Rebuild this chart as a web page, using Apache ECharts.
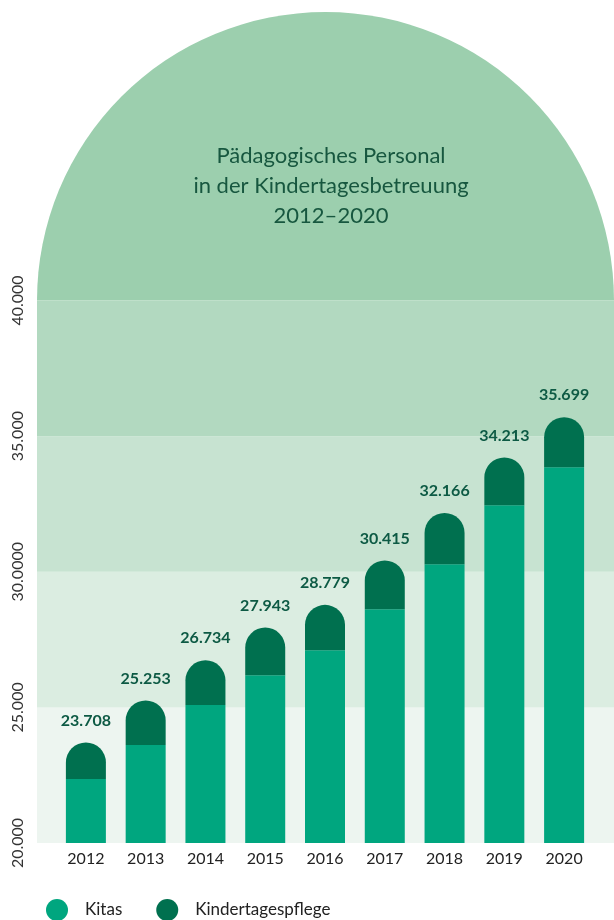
<!DOCTYPE html>
<html lang="de">
<head>
    <meta charset="UTF-8">
    <title>Pädagogisches Personal</title>
    <script src="https://cdn.jsdelivr.net/npm/echarts@6/dist/echarts.min.js"></script>
    <style>
        html, body { margin: 0; padding: 0; background: #fff; }
        #main { width: 614px; height: 920px; }
    </style>
</head>
<body>
    <div id="main"></div>
    <script>
        // Daten
        var years = ['2012', '2013', '2014', '2015', '2016', '2017', '2018', '2019', '2020'];
        var kitas = [22357, 23610, 25083, 26188, 27109, 28619, 30276, 32449, 33849];
        var pflege = [1351, 1643, 1651, 1755, 1670, 1796, 1890, 1764, 1850];
        var totals = [23708, 25253, 26734, 27943, 28779, 30415, 32166, 34213, 35699];
        var yTicks = { 20000: '20.000', 25000: '25.000', 30000: '30.0000', 35000: '35.000', 40000: '40.000' };

        var bandColors = ['#edf5f0', '#dbede1', '#c7e3d1', '#b2d9c0'];
        var gTop = 300.5, gBottom = 77, gLeft = 37;
        var font = 'Lato, "Noto Sans", sans-serif';

        var chart = echarts.init(document.getElementById('main'));

        function fmt(v) {
            return String(v).replace(/\B(?=(\d{3})+(?!\d))/g, '.');
        }

        var option = {
            animation: false,
            title: {
                text: 'Pädagogisches Personal\nin der Kindertagesbetreuung\n2012–2020',
                left: 326,
                top: 136,
                textAlign: 'center',
                textStyle: {
                    fontFamily: font,
                    fontWeight: 'normal',
                    fontSize: 22,
                    lineHeight: 30,
                    color: '#17573f'
                }
            },
            legend: {
                left: 41,
                top: 894,
                icon: 'circle',
                itemWidth: 22,
                itemHeight: 22,
                itemGap: 34,
                textStyle: { fontFamily: font, fontSize: 17, color: '#222', padding: [0, 0, 0, 12] },
                data: ['Kitas', 'Kindertagespflege']
            },
            grid: [
                { left: gLeft, right: 0, top: gTop, bottom: gBottom },
                { left: 56, right: 20, top: gTop, bottom: gBottom }
            ],
            xAxis: [
                { type: 'value', gridIndex: 0, min: 0, max: 1, show: false },
                {
                    type: 'category', gridIndex: 1, data: years,
                    axisLine: { show: false }, axisTick: { show: false },
                    axisLabel: { margin: 8, fontFamily: font, fontSize: 16, color: '#222' }
                }
            ],
            yAxis: [
                {
                    type: 'value', gridIndex: 0, min: 20000, max: 40000, interval: 5000,
                    axisLine: { show: false }, axisTick: { show: false },
                    splitLine: { show: false },
                    splitArea: { show: true, areaStyle: { color: bandColors } },
                    axisLabel: {
                        rotate: 90, margin: 11, fontFamily: font, fontSize: 16, color: '#333',
                        formatter: function (v) { return yTicks[v] || ''; }
                    }
                },
                {
                    type: 'value', gridIndex: 1, min: 20000, max: 40000, interval: 5000,
                    show: false
                }
            ],
            series: [
                {
                    name: 'Kitas', type: 'bar', stack: 'p',
                    xAxisIndex: 1, yAxisIndex: 1,
                    barWidth: 40,
                    itemStyle: { color: '#00a67f' },
                    data: kitas
                },
                {
                    name: 'Kindertagespflege', type: 'bar', stack: 'p',
                    xAxisIndex: 1, yAxisIndex: 1,
                    barWidth: 40,
                    itemStyle: { color: '#00704f', borderRadius: [20, 20, 0, 0] },
                    label: {
                        show: true, position: 'top', distance: 14,
                        fontFamily: font, fontWeight: 'bold', fontSize: 16, color: '#0d5a44',
                        formatter: function (p) { return fmt(totals[p.dataIndex]); }
                    },
                    data: pflege
                }
            ]
        };

        chart.setOption(option);

        // Bogen oberhalb der 40.000-Linie
        var w = chart.getWidth();
        var r = (w - gLeft) / 2;
        chart.setOption({
            graphic: [{
                type: 'sector',
                silent: true,
                z: -1,
                shape: { cx: gLeft + r, cy: gTop, r: r, startAngle: Math.PI, endAngle: Math.PI * 2 },
                style: { fill: '#9ccfae' }
            }]
        });
    </script>
</body>
</html>
